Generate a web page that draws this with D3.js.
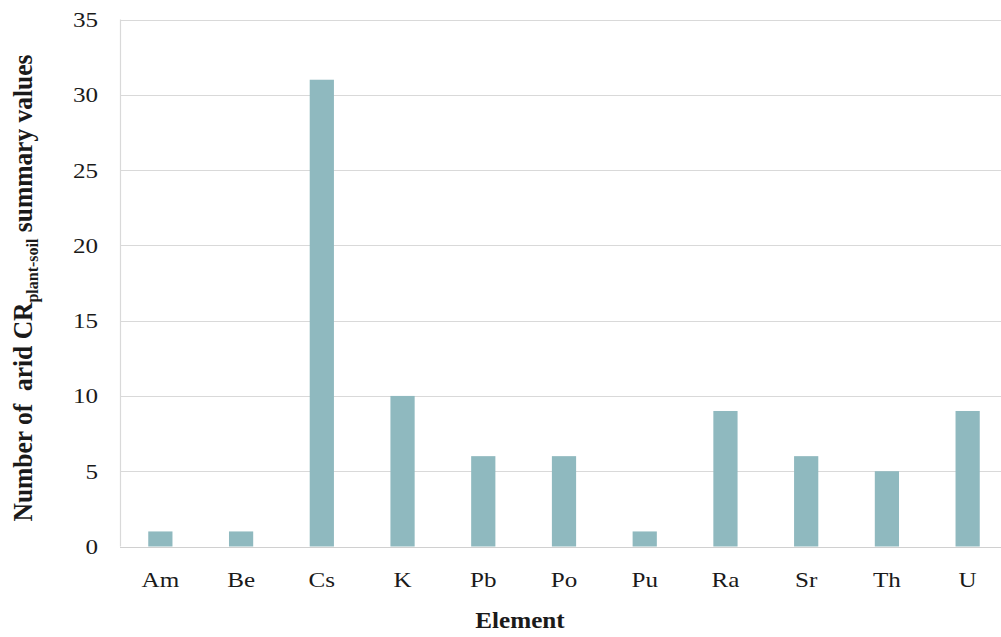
<!DOCTYPE html>
<html><head><meta charset="utf-8">
<script src="https://cdn.jsdelivr.net/npm/d3@7/dist/d3.min.js"></script>
<style>body{margin:0;background:#fff;} svg{display:block;} text{white-space:pre;}</style>
</head><body>
<script>
const categories = ["Am","Be","Cs","K","Pb","Po","Pu","Ra","Sr","Th","U"];
const counts = [1,1,31,10,6,6,1,9,6,5,9];
const yTicks = [0,5,10,15,20,25,30,35];
const xTitle = "Element";

const W = 1001, H = 637;
const svg = d3.select("body").append("svg").attr("width", W).attr("height", H);
const mLeft = 120, mRight = 1008, mTop = 19.5, mBottom = 546.5;
const SX = 1.14;
const font = "'Liberation Serif','Times New Roman',serif";

const x = d3.scaleBand().domain(categories).range([mLeft, mRight]).paddingInner(0.7).paddingOuter(0.35);
const y = d3.scaleLinear().domain([0, 35]).range([mBottom, mTop]);

// gridlines
svg.append("g").selectAll("line").data(yTicks.filter(d => d > 0)).join("line")
  .attr("x1", mLeft).attr("x2", mRight)
  .attr("y1", d => Math.round(y(d)) + 0.5).attr("y2", d => Math.round(y(d)) + 0.5)
  .attr("stroke", "#d9d9d9").attr("stroke-width", 1.2);

// axis lines
svg.append("line").attr("x1", mLeft + 0.5).attr("x2", mLeft + 0.5).attr("y1", mTop).attr("y2", mBottom)
  .attr("stroke", "#d9d9d9").attr("stroke-width", 1.2);
svg.append("line").attr("x1", mLeft).attr("x2", mRight).attr("y1", Math.round(mBottom) + 0.5).attr("y2", Math.round(mBottom) + 0.5)
  .attr("stroke", "#d0d0d0").attr("stroke-width", 1.2);

// bars
svg.append("g").selectAll("rect").data(categories).join("rect")
  .attr("x", d => x(d)).attr("width", x.bandwidth())
  .attr("y", (d, i) => y(counts[i])).attr("height", (d, i) => y(0) - y(counts[i]))
  .attr("fill", "#8fb9bf");

// y tick labels
svg.append("g").selectAll("text").data(yTicks).join("text")
  .attr("transform", d => `translate(98,${y(d) + 7.5}) scale(${SX},1)`)
  .attr("text-anchor", "end").attr("font-family", font).attr("font-size", 22).attr("fill", "#1a1a1a")
  .text(d => d);

// x tick labels
svg.append("g").selectAll("text").data(categories).join("text")
  .attr("transform", d => `translate(${x(d) + x.bandwidth() / 2},587) scale(${SX},1)`)
  .attr("text-anchor", "middle").attr("font-family", font).attr("font-size", 22).attr("fill", "#1a1a1a")
  .text(d => d);

// x title
svg.append("text").attr("transform", `translate(520,628) scale(1.12,1)`)
  .attr("text-anchor", "middle").attr("font-family", font).attr("font-size", 22.5)
  .attr("font-weight", "bold").attr("fill", "#1a1a1a").text(xTitle);

// y title
const yt = svg.append("text").attr("transform", `translate(32,288) scale(1.04,1) rotate(-90)`)
  .attr("text-anchor", "middle").attr("font-family", font).attr("font-size", 25.5)
  .attr("font-weight", "bold").attr("fill", "#1a1a1a");
yt.append("tspan").text("Number of  arid CR");
yt.append("tspan").attr("font-size", 16).attr("dy", 6).text("plant-soil");
yt.append("tspan").attr("dy", -6).text(" summary values");
</script>
</body></html>
